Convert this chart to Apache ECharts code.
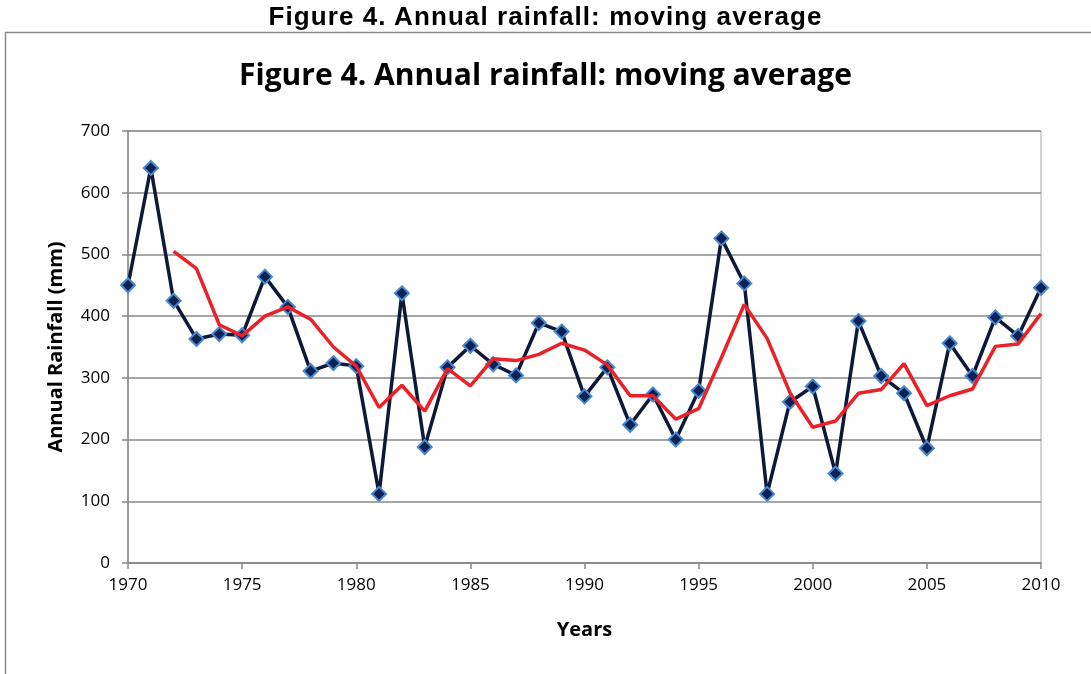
<!DOCTYPE html>
<html>
<head>
<meta charset="utf-8">
<script src="https://cdn.jsdelivr.net/npm/echarts@6/dist/echarts.min.js"></script>
<style>
html,body{margin:0;padding:0;background:#fff;}
#wrap{position:relative;width:1091px;height:674px;}
#c{position:absolute;left:0;top:0;width:1091px;height:674px;}
#t{position:absolute;left:0;top:1px;width:1091px;text-align:center;font-family:"Liberation Sans",Arial,sans-serif;font-weight:bold;font-size:26px;letter-spacing:1.1px;color:#000;line-height:30px;z-index:2;}
</style>
</head>
<body>
<div id="wrap">
<div id="c"></div>
<div id="t">Figure 4. Annual rainfall: moving average</div>
</div>
<script>
var years = [1970,1971,1972,1973,1974,1975,1976,1977,1978,1979,1980,1981,1982,1983,1984,1985,1986,1987,1988,1989,1990,1991,1992,1993,1994,1995,1996,1997,1998,1999,2000,2001,2002,2003,2004,2005,2006,2007,2008,2009,2010];
var rainfall = [450,640,425,363,371,369,464,415,311,324,319,112,437,188,317,352,322,304,389,375,270,317,224,273,200,279,526,453,112,261,286,145,392,303,275,186,356,303,398,368,446];
var movingAvg = [null,null,505,477,386,368,400,415,395,350,319,252,288,246,315,287,331,328,338,356,345,321,271,271,233,250,333,419,364,276,220,230,275,281,323,255,271,282,351,355,404];
var yTicks = [0,100,200,300,400,500,600,700];
var xTicks = [1970,1975,1980,1985,1990,1995,2000,2005,2010];

var chart = echarts.init(document.getElementById('c'));
var rainPairs = years.map(function(y,i){return [y, rainfall[i]];});
var avgPairs = years.map(function(y,i){return [y, movingAvg[i]];});
var font = '"Open Sans", sans-serif';
chart.setOption({
  animation:false,
  backgroundColor:'#fff',
  title:[
    {text:'Figure 4. Annual rainfall: moving average', left:'center', top:56,
     textStyle:{fontFamily:font, fontWeight:'bold', fontSize:30, color:'#000'}}
  ],
  graphic:[{type:'rect', shape:{x:5.5,y:32.5,width:1200,height:800}, style:{fill:'none', stroke:'#888', lineWidth:1.5}, silent:true}],
  grid:{left:128, right:50, top:131, bottom:111, show:true, borderColor:'#aaa', borderWidth:1},
  xAxis:{type:'value', min:1970, max:2010, interval:5,
    name:'Years', nameLocation:'middle', nameGap:57,
    nameTextStyle:{fontFamily:font, fontWeight:'bold', fontSize:20, color:'#000'},
    axisLine:{show:true, lineStyle:{color:'#888', width:1.5}},
    axisTick:{show:true, inside:false, length:6, lineStyle:{color:'#888', width:1.5}},
    axisLabel:{fontFamily:font, fontSize:17, color:'#000', margin:14,
      customValues: xTicks, formatter:function(v){return String(v);}},
    splitLine:{show:false}},
  yAxis:{type:'value', min:0, max:700, interval:100,
    name:'Annual Rainfall (mm)', nameLocation:'middle', nameGap:62, nameRotate:90,
    nameTextStyle:{fontFamily:font, fontWeight:'bold', fontSize:20, color:'#000'},
    axisLine:{show:true, lineStyle:{color:'#888', width:1.5}},
    axisTick:{show:true, length:6, lineStyle:{color:'#888', width:1.5}},
    axisLabel:{fontFamily:font, fontSize:17, color:'#000', margin:18,
      customValues: yTicks},
    splitLine:{show:true, lineStyle:{color:'#888', width:1.5}}},
  series:[
    {type:'line', data:rainPairs, symbol:'diamond', symbolSize:14,
     lineStyle:{color:'#0e1838', width:3.5},
     itemStyle:{color:'#0a2255', borderColor:'#4a88cc', borderWidth:2},
     z:3},
    {type:'line', data:avgPairs, symbol:'none', connectNulls:false,
     lineStyle:{color:'#ea2227', width:3.5}, z:4}
  ]
});
</script>
</body>
</html>
